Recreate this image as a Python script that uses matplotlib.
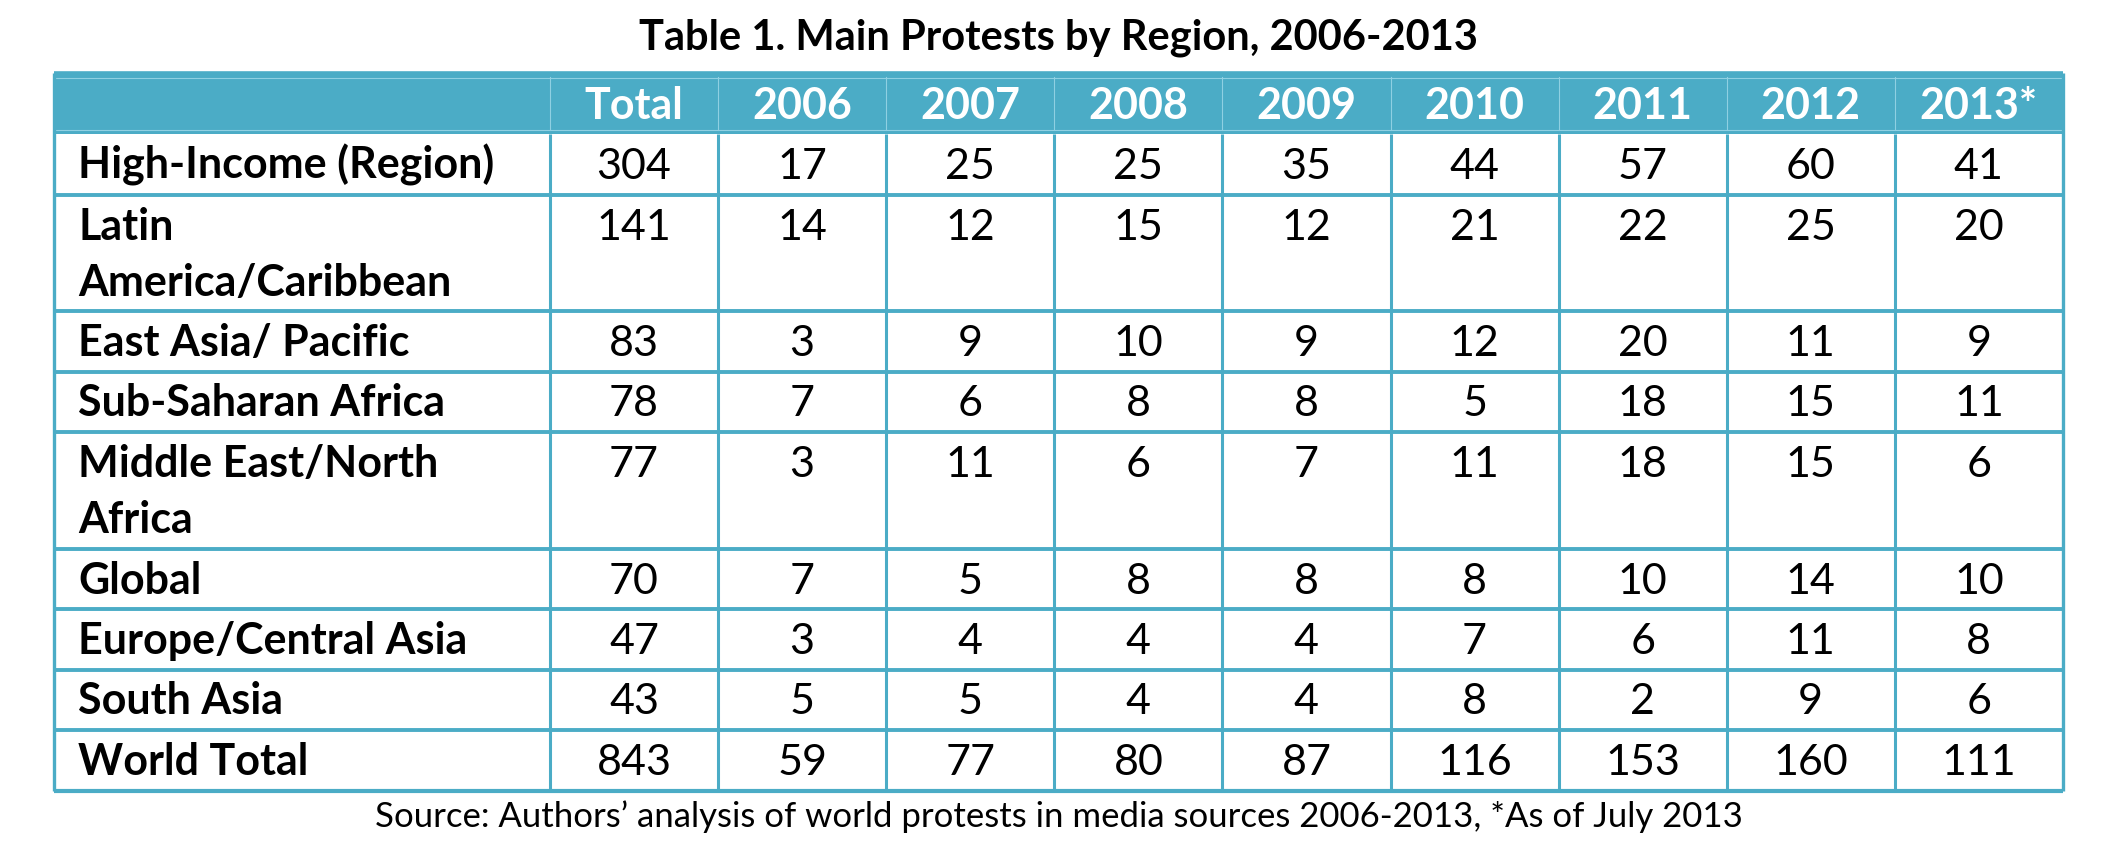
import matplotlib
matplotlib.use("Agg")
import matplotlib.pyplot as plt
from matplotlib.patches import Rectangle

plt.rcParams['font.family'] = ['Lato', 'DejaVu Sans']

columns = ["Total", "2006", "2007", "2008", "2009", "2010", "2011", "2012", "2013*"]
regions = ["High-Income (Region)", "Latin\nAmerica/Caribbean", "East Asia/ Pacific",
           "Sub-Saharan Africa", "Middle East/North\nAfrica", "Global",
           "Europe/Central Asia", "South Asia", "World Total"]
high_income = [304, 17, 25, 25, 35, 44, 57, 60, 41]
latin_america = [141, 14, 12, 15, 12, 21, 22, 25, 20]
east_asia = [83, 3, 9, 10, 9, 12, 20, 11, 9]
sub_saharan = [78, 7, 6, 8, 8, 5, 18, 15, 11]
middle_east = [77, 3, 11, 6, 7, 11, 18, 15, 6]
global_row = [70, 7, 5, 8, 8, 8, 10, 14, 10]
europe = [47, 3, 4, 4, 4, 7, 6, 11, 8]
south_asia = [43, 5, 5, 4, 4, 8, 2, 9, 6]
world_total = [843, 59, 77, 80, 87, 116, 153, 160, 111]
values = [high_income, latin_america, east_asia, sub_saharan, middle_east,
          global_row, europe, south_asia, world_total]

title = "Table 1. Main Protests by Region, 2006-2013"
source = "Source: Authors\u2019 analysis of world protests in media sources 2006-2013, *As of July 2013"

BLUE = "#4BACC6"
W, H = 2102, 852
fs = 31

# layout in pixels
left, first_w, col_w = 54, 496, 168.1
top, header_h, line_h, pad = 73, 61, 60.5, 56
xs = [left, left + first_w] + [left + first_w + col_w * (i + 1) for i in range(len(columns))]
row_h = [line_h + pad * (r.count("\n")) for r in regions]
ys = [top, top + header_h]
for h in row_h:
    ys.append(ys[-1] + h)

fig = plt.figure(figsize=(W / 100, H / 100), dpi=100)
ax = fig.add_axes([0, 0, 1, 1])
ax.set_xlim(0, W)
ax.set_ylim(H, 0)
ax.axis("off")

ax.text((xs[0] + xs[-1]) / 2, 38, title, ha="center", va="center",
        fontsize=30, fontweight="bold", color="black")

# header band
ax.add_patch(Rectangle((xs[0], ys[0]), xs[-1] - xs[0], header_h, color=BLUE, lw=0))
for x in xs[1:-1]:
    ax.plot([x, x], [ys[0] + 4, ys[1] - 4], color="#8fd0e2", lw=0.8)
ax.plot([xs[0], xs[-1]], [ys[0] + 5, ys[0] + 5], color="#8fd0e2", lw=0.8)
ax.plot([xs[0], xs[-1]], [ys[1] - 4, ys[1] - 4], color="#8fd0e2", lw=0.8)
for j, c in enumerate(columns):
    ax.text((xs[j + 1] + xs[j + 2]) / 2, ys[0] + 46, c, ha="center", va="baseline",
            fontsize=fs, fontweight="bold", color="white")

# body
for i, r in enumerate(regions):
    y0 = ys[i + 1]
    for k, part in enumerate(r.split("\n")):
        ax.text(xs[0] + 24, y0 + 45 + k * pad, part, ha="left", va="baseline",
                fontsize=fs, fontweight="bold", color="black")
    for j, v in enumerate(values[i]):
        ax.text((xs[j + 1] + xs[j + 2]) / 2, y0 + 45, str(v), ha="center",
                va="baseline", fontsize=fs, color="black")

# grid lines
for y in ys[2:-1]:
    ax.plot([xs[0], xs[-1]], [y, y], color=BLUE, lw=2.8, solid_capstyle="butt")
ax.plot([xs[0], xs[-1]], [ys[0], ys[0]], color=BLUE, lw=2.6, solid_capstyle="butt")
ax.plot([xs[0], xs[-1]], [ys[-1], ys[-1]], color=BLUE, lw=3.0, solid_capstyle="butt")
for x in xs[1:-1]:
    ax.plot([x, x], [ys[1], ys[-1]], color=BLUE, lw=2.2, solid_capstyle="butt")
for x in (xs[0], xs[-1]):
    ax.plot([x, x], [ys[0], ys[-1]], color=BLUE, lw=2.4, solid_capstyle="butt")

ax.text((xs[0] + xs[-1]) / 2, 817, source, ha="center", va="center",
        fontsize=25, color="black")

fig.savefig("out.png", dpi=100)
